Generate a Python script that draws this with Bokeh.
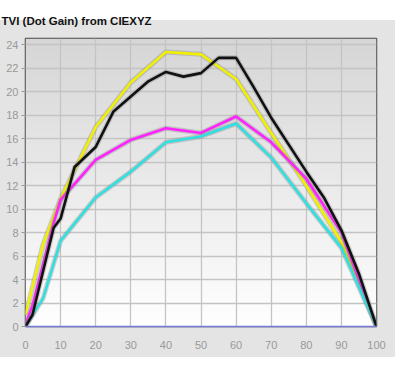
import numpy as np
from bokeh.plotting import figure
from bokeh.models import Range1d, FixedTicker
from bokeh.embed import file_html
from bokeh.resources import INLINE

# ---- data ----
title_text = "TVI (Dot Gain) from CIEXYZ"
x_ticks = [0, 10, 20, 30, 40, 50, 60, 70, 80, 90, 100]
y_ticks = [0, 2, 4, 6, 8, 10, 12, 14, 16, 18, 20, 22, 24]

yellow_x = [0, 5, 10, 20, 30, 40, 50, 60, 70, 80, 90, 100]
yellow_y = [1.0, 7.0, 10.9, 17.0, 20.8, 23.4, 23.2, 21.1, 16.5, 12.0, 7.2, 0]

magenta_x = [0, 2, 5, 8, 10, 20, 30, 40, 50, 60, 70, 80, 90, 100]
magenta_y = [0.2, 1.8, 5.3, 8.8, 10.8, 14.2, 15.9, 16.9, 16.5, 17.9, 15.7, 12.6, 8.0, 0]

cyan_x = [0, 5, 10, 20, 30, 40, 50, 60, 70, 80, 90, 100]
cyan_y = [0, 2.4, 7.3, 11.0, 13.2, 15.7, 16.2, 17.3, 14.4, 10.5, 6.7, 0]

black_x = [0, 2, 8, 10, 14, 20, 25, 30, 35, 40, 45, 50, 55, 60, 65, 70, 80, 85, 90, 95, 100]
black_y = [0, 1.0, 8.4, 9.2, 13.6, 15.3, 18.3, 19.6, 20.9, 21.7, 21.3, 21.6, 22.9, 22.9,
           20.4, 17.8, 13.2, 11.0, 8.2, 4.5, 0]

Y_TOP = 24.55

p = figure(width=401, height=364, output_backend="svg", toolbar_location=None,
           x_range=Range1d(0, 100), y_range=Range1d(0, Y_TOP),
           min_border_left=25, min_border_right=25,
           min_border_top=38, min_border_bottom=38)

# grey panel behind the chart, white around it (drawn by the page element)
p.border_fill_color = None
p.styles = {
    "background-color": "white",
    "background-image": "linear-gradient(#e4e4e4, #e4e4e4)",
    "background-repeat": "no-repeat",
    "background-position": "0px 20px",
    "background-size": "395px 337px",
}
p.background_fill_color = "white"
p.outline_line_color = "#4a4a4a"
p.outline_line_width = 1.5

# title
p.title.text = title_text
p.title.text_font = "Liberation Sans"
p.title.text_font_style = "bold"
p.title.text_font_size = "11.5px"
p.title.text_color = "#111111"
p.title.align = "left"
p.title.offset = -24
p.title.standoff = 23

# gradient plot background
n = 200
t = np.linspace(0, 1, n)
g = (255 - t * (255 - 214)).astype(np.uint32)
img = np.zeros((n, 1), dtype=np.uint32)
view = img.view(dtype=np.uint8).reshape((n, 1, 4))
view[:, 0, 0] = g
view[:, 0, 1] = g
view[:, 0, 2] = g
view[:, 0, 3] = 255
p.image_rgba(image=[img], x=0, y=0, dw=100, dh=Y_TOP, level="image")

# axes
p.xaxis.ticker = FixedTicker(ticks=x_ticks)
p.yaxis.ticker = FixedTicker(ticks=y_ticks)
p.xaxis.axis_line_color = "#7878d8"
p.xaxis.axis_line_width = 1.5
p.yaxis.axis_line_color = None
p.xaxis.major_tick_line_color = None
p.xaxis.minor_tick_line_color = None
p.yaxis.minor_tick_line_color = None
p.yaxis.major_tick_line_color = "#9a9a9a"
p.yaxis.major_tick_out = 4
p.yaxis.major_tick_in = 0
p.xaxis.major_label_standoff = 8
p.yaxis.major_label_standoff = 3
for ax in (p.xaxis, p.yaxis):
    ax.major_label_text_color = "#999999"
    ax.major_label_text_font = "Liberation Sans"
    ax.major_label_text_font_size = "11px"

p.xgrid.grid_line_color = "#c4c4c4"
p.ygrid.grid_line_color = "#c4c4c4"
p.xgrid.grid_line_width = 1.3
p.ygrid.grid_line_width = 1.3

# series (shadow + colour)
series = [
    (yellow_x, yellow_y, "#f0f000"),
    (magenta_x, magenta_y, "#ff22ff"),
    (cyan_x, cyan_y, "#30e0e0"),
    (black_x, black_y, "#111111"),
]
for xs, ys, col in series:
    p.line(xs, ys, line_color="#808080", line_width=5, line_alpha=0.35)
    p.line(xs, ys, line_color=col, line_width=2.6)

open("out.html", "w").write(file_html(p, INLINE))
